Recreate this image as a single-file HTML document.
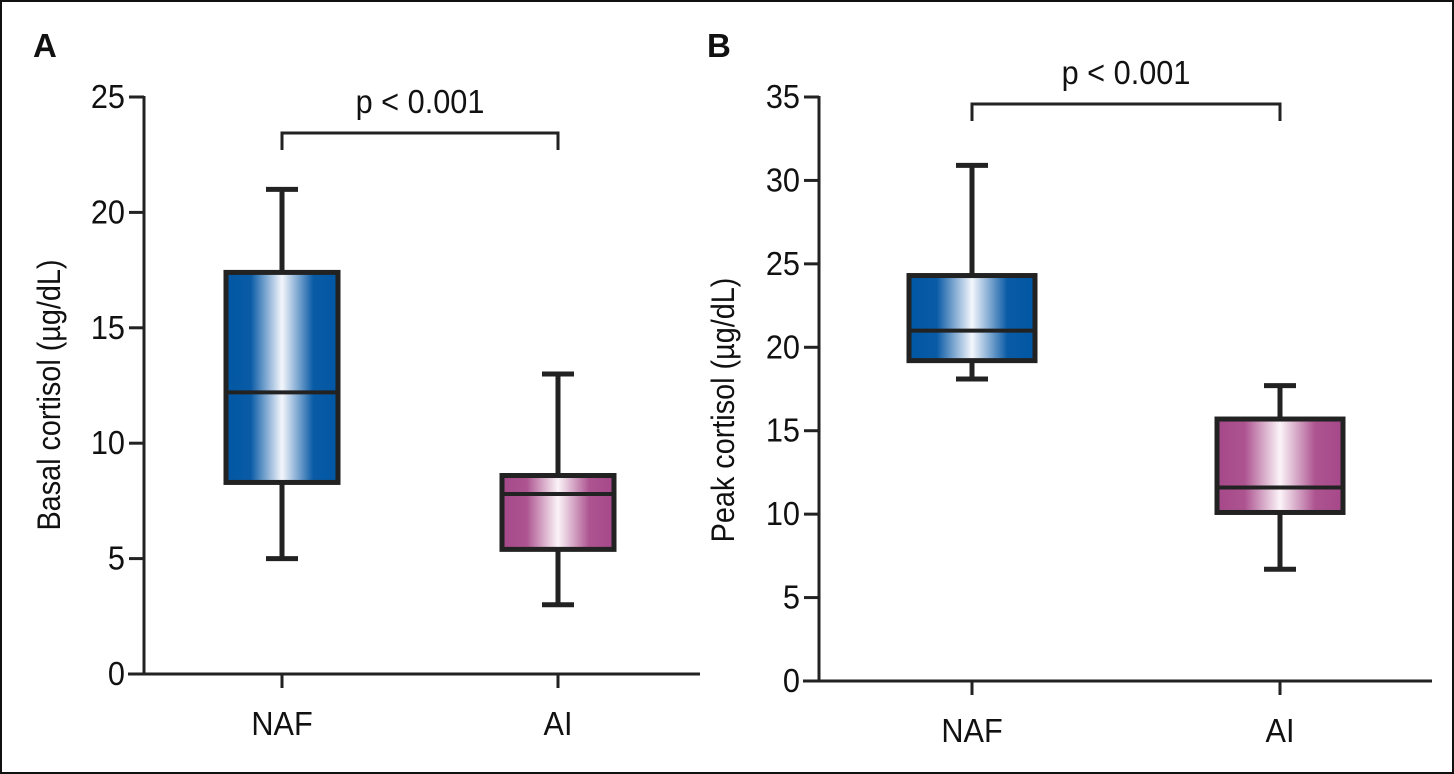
<!DOCTYPE html>
<html><head><meta charset="utf-8"><style>
html,body{margin:0;padding:0;background:#fff}
svg{display:block}
text{font-family:"Liberation Sans Narrow","Liberation Sans",sans-serif;fill:#111}
</style></head><body>
<svg id="chart" width="1454" height="774" viewBox="0 0 1454 774" xmlns="http://www.w3.org/2000/svg">
<defs>
<linearGradient id="gBlue" x1="0" x2="1" y1="0" y2="0">
<stop offset="0" stop-color="#0057a3"/><stop offset="0.22" stop-color="#0a5ba6"/><stop offset="0.5" stop-color="#f4f6fc"/><stop offset="0.78" stop-color="#0a5ba6"/><stop offset="1" stop-color="#0057a3"/>
</linearGradient>
<linearGradient id="gPink" x1="0" x2="1" y1="0" y2="0">
<stop offset="0" stop-color="#a6488a"/><stop offset="0.22" stop-color="#ad5490"/><stop offset="0.5" stop-color="#fbf4f8"/><stop offset="0.78" stop-color="#ad5490"/><stop offset="1" stop-color="#a6488a"/>
</linearGradient>
</defs>
<rect x="1" y="1" width="1452" height="772" fill="none" stroke="#111" stroke-width="2"/>
<g id="layer"></g>
</svg>
<script>
const categories = ["NAF", "AI"];
const basalMin = [5, 3];
const basalQ1 = [8.3, 5.4];
const basalMedian = [12.2, 7.8];
const basalQ3 = [17.4, 8.6];
const basalMax = [21, 13];
const basalTicks = [0, 5, 10, 15, 20, 25];
const peakMin = [18.1, 6.7];
const peakQ1 = [19.2, 10.1];
const peakMedian = [21.0, 11.6];
const peakQ3 = [24.3, 15.7];
const peakMax = [30.9, 17.7];
const peakTicks = [0, 5, 10, 15, 20, 25, 30, 35];
const pLabel = "p < 0.001";

const NS = "http://www.w3.org/2000/svg";
const layer = document.getElementById("layer");
function mk(tag, attrs, parent, txt) {
  const e = document.createElementNS(NS, tag);
  for (const k in attrs) e.setAttribute(k, attrs[k]);
  if (txt !== undefined) e.textContent = txt;
  (parent || layer).appendChild(e);
  return e;
}
function txt(x, y, size, anchor, s, parent, rot, sx) {
  const t = `translate(${x},${y})` + (rot ? " rotate(-90)" : "") + ` scale(${sx || 0.93},1)`;
  return mk("text", {x: 0, y: 0, "font-size": size, "text-anchor": anchor, transform: t}, parent, s);
}

function panel(cfg) {
  const g = mk("g", {});
  
  
  const y = v => cfg.y0 - (v - cfg.vmin) / (cfg.vmax - cfg.vmin) * (cfg.y0 - cfg.yTop);
  const x = i => cfg.xs[i];
  const L = mk("text", {x: cfg.letterX, y: 57, "font-size": 33, "font-weight": "bold"}, g, cfg.letter);
  
  
  const ya = mk("line", {x1: cfg.axisX, x2: cfg.axisX, y1: y(cfg.vmax) - 1, y2: cfg.y0 + 1, stroke: "#222", "stroke-width": 3}, g);
  
  
  const xa = mk("line", {x1: cfg.axisX - 16, x2: cfg.xEnd, y1: cfg.y0, y2: cfg.y0, stroke: "#222", "stroke-width": 3}, g);
  
  
  cfg.ticks.forEach(t => {
    const tl = mk("line", {x1: cfg.axisX - 15, x2: cfg.axisX, y1: y(t), y2: y(t), stroke: "#222", "stroke-width": 3}, g);
    
    
    const tt = txt(cfg.axisX - 19, y(t) + 11, 33, "end", String(t), g);
    
    
  });
  const yt = txt(cfg.titleX, cfg.titleY, 32, "middle", cfg.title, g, true, 0.9);
  
  
  categories.forEach((c, i) => {
    const xt = mk("line", {x1: x(i), x2: x(i), y1: cfg.y0, y2: cfg.y0 + 14, stroke: "#222", "stroke-width": 3}, g);
    
    
    const xl = txt(x(i), cfg.y0 + 61, 33, "middle", c, g);
    
    
    const hw = cfg.boxW / 2;
    const bg = mk("g", {}, g);
    
    
    const capW = 16;
    const w1 = mk("line", {x1: x(i), x2: x(i), y1: y(cfg.max[i]), y2: y(cfg.q3[i]), stroke: "#222", "stroke-width": 5}, bg);
    
    
    const w2 = mk("line", {x1: x(i), x2: x(i), y1: y(cfg.q1[i]), y2: y(cfg.min[i]), stroke: "#222", "stroke-width": 5}, bg);
    
    
    const c1 = mk("line", {x1: x(i) - capW, x2: x(i) + capW, y1: y(cfg.max[i]), y2: y(cfg.max[i]), stroke: "#222", "stroke-width": 5}, bg);
    
    
    const c2 = mk("line", {x1: x(i) - capW, x2: x(i) + capW, y1: y(cfg.min[i]), y2: y(cfg.min[i]), stroke: "#222", "stroke-width": 5}, bg);
    
    
    const r = mk("rect", {x: x(i) - hw, y: y(cfg.q3[i]), width: cfg.boxW, height: y(cfg.q1[i]) - y(cfg.q3[i]), fill: i === 0 ? "url(#gBlue)" : "url(#gPink)", stroke: "#222", "stroke-width": 5}, bg);
    
    
    const m = mk("line", {x1: x(i) - hw, x2: x(i) + hw, y1: y(cfg.median[i]), y2: y(cfg.median[i]), stroke: "#222", "stroke-width": 4}, bg);
    
    
  });
  const br = mk("path", {d: `M${x(0)},${cfg.brY + 17} V${cfg.brY} H${x(1)} V${cfg.brY + 17}`, fill: "none", stroke: "#222", "stroke-width": 3}, g);
  
  
  const pt = txt((x(0) + x(1)) / 2, cfg.brY - 20, 33, "middle", pLabel, g);
  
  
}

panel({name: "panel-a-basal", letter: "A", letterX: 33, axisX: 144, xEnd: 700, y0: 674, yTop: 97, vmin: 0, vmax: 25,
  xs: [282, 558], boxW: 112, ticks: basalTicks, min: basalMin, q1: basalQ1, median: basalMedian, q3: basalQ3, max: basalMax,
  title: "Basal cortisol (\u00b5g/dL)", titleX: 60, titleY: 395, brY: 133});
panel({name: "panel-b-peak", letter: "B", letterX: 707, axisX: 819, xEnd: 1432, y0: 681, yTop: 97, vmin: 0, vmax: 35,
  xs: [972, 1280], boxW: 126, ticks: peakTicks, min: peakMin, q1: peakQ1, median: peakMedian, q3: peakQ3, max: peakMax,
  title: "Peak cortisol (\u00b5g/dL)", titleX: 734, titleY: 410, brY: 104});
</script>
</body></html>
